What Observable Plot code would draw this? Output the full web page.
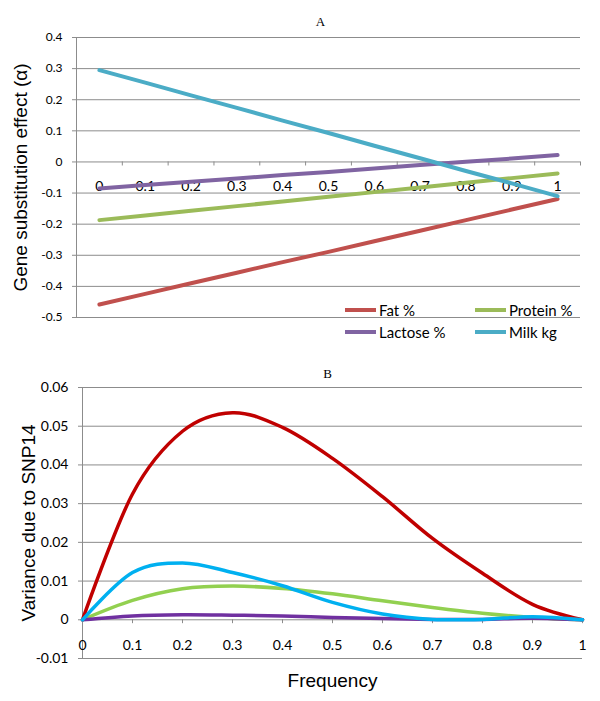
<!DOCTYPE html>
<html>
<head>
<meta charset="utf-8">
<script src="https://cdn.jsdelivr.net/npm/d3@7"></script>
<script src="https://cdn.jsdelivr.net/npm/@observablehq/plot@0.6"></script>
<style>
  body { margin: 0; background: #fff; }
  #wrap { position: relative; width: 600px; height: 701px; background: #fff; overflow: hidden; }
  .leg { position: absolute; font-family: Lato, "Open Sans", sans-serif; font-size: 15px; color: #000; white-space: nowrap; display: flex; align-items: center; }
  .leg .sw { display: inline-block; width: 31px; height: 4px; margin-right: 3px; }
</style>
</head>
<body>
<div id="wrap"></div>
<script>
// ---------- data ----------
const freq = [0, 0.1, 0.2, 0.3, 0.4, 0.5, 0.6, 0.7, 0.8, 0.9, 1];
const freqLabels = ["0", "0.1", "0.2", "0.3", "0.4", "0.5", "0.6", "0.7", "0.8", "0.9", "1"];
const seriesNames = ["Fat %", "Protein %", "Lactose %", "Milk kg"];

// Panel A: gene substitution effect (alpha)
const fatA     = [-0.458, -0.424, -0.390, -0.356, -0.322, -0.289, -0.255, -0.221, -0.187, -0.153, -0.119];
const proteinA = [-0.187, -0.172, -0.157, -0.142, -0.127, -0.112, -0.097, -0.082, -0.067, -0.052, -0.037];
const lactoseA = [-0.085, -0.074, -0.064, -0.053, -0.042, -0.032, -0.021, -0.010, 0.001, 0.011, 0.022];
const milkA    = [0.295, 0.255, 0.214, 0.174, 0.133, 0.093, 0.052, 0.012, -0.029, -0.069, -0.110];
const yTicksA  = [-0.5, -0.4, -0.3, -0.2, -0.1, 0, 0.1, 0.2, 0.3, 0.4];
const yTickLabelsA = ["-0.5", "-0.4", "-0.3", "-0.2", "-0.1", "0", "0.1", "0.2", "0.3", "0.4"];

// Panel B: variance due to SNP14
const fatB     = [0, 0.0325, 0.0487, 0.0535, 0.0497, 0.0417, 0.0318, 0.0210, 0.0120, 0.0040, 0];
const proteinB = [0, 0.0050, 0.0080, 0.0087, 0.0081, 0.0067, 0.0049, 0.0032, 0.0017, 0.0006, 0];
const lactoseB = [0, 0.0010, 0.0013, 0.0012, 0.0010, 0.0006, 0.0003, 0.0001, 0.0001, 0.0004, 0];
const milkB    = [0, 0.0122, 0.0147, 0.0122, 0.0088, 0.0045, 0.0015, 0.0001, 0.0001, 0.0008, 0];
const yTicksB  = [-0.01, 0, 0.01, 0.02, 0.03, 0.04, 0.05, 0.06];
const yTickLabelsB = ["-0.01", "0", "0.01", "0.02", "0.03", "0.04", "0.05", "0.06"];

// ---------- styling ----------
const colorsA = ["#C0504D", "#9BBB59", "#8064A2", "#4BACC6"];
const colorsB = ["#C00000", "#92D050", "#7030A0", "#00B0F0"];
const grid = "#8c8c8c";
const tickFont = "Lato, 'Open Sans', sans-serif";
const titleFont = "'Liberation Sans', Arial, sans-serif";
const serifFont = "'Liberation Serif', 'Times New Roman', serif";

function toRows(seriesArrays) {
  const rows = [];
  seriesArrays.forEach((vals, s) => vals.forEach((v, i) => rows.push({x: freq[i], y: v, s: seriesNames[s]})));
  return rows;
}
const rowsA = toRows([fatA, proteinA, lactoseA, milkA]);
const rowsB = toRows([fatB, proteinB, lactoseB, milkB]);

const wrap = document.getElementById("wrap");

// ---------- Panel A ----------
const stepA = freq[1] - freq[0];
const boundariesA = [freq[0] - stepA / 2, ...freq.map(f => f + stepA / 2)];
const plotA = Plot.plot({
  width: 600, height: 345,
  marginLeft: 76, marginRight: 20, marginTop: 37, marginBottom: 28,
  style: {fontFamily: tickFont, fontSize: "12px", color: "#000", background: "transparent", overflow: "visible"},
  x: {domain: [boundariesA[0], boundariesA[boundariesA.length - 1]], axis: null},
  y: {domain: [-0.5, 0.4]},
  color: {domain: seriesNames, range: colorsA},
  marks: [
    Plot.ruleY(yTicksA, {stroke: grid, strokeWidth: 1}),
    Plot.ruleX([boundariesA[0]], {stroke: grid, strokeWidth: 1}),
    Plot.axisY(yTicksA, {tickSize: 4, tickPadding: 10, stroke: grid, fill: "#000", fontSize: 12,
      tickFormat: d => yTickLabelsA[yTicksA.indexOf(d)], label: null}),
    Plot.ruleX(boundariesA, {y1: 0, y2: -0.013, stroke: grid, strokeWidth: 1}),
    Plot.text(freq, {x: d => d, y: 0, dy: 25, text: (d, i) => freqLabels[i], fontSize: 14, fill: "#000"}),
    Plot.line(rowsA, {x: "x", y: "y", z: "s", stroke: "s", strokeWidth: 4}),
    Plot.text(["Gene substitution effect (α)"], {frameAnchor: "left", textAnchor: "middle", lineAnchor: "middle", rotate: -90, dx: -56, fontSize: 19, fontFamily: titleFont, fill: "#000"}),
    Plot.text(["A"], {frameAnchor: "top", lineAnchor: "middle", dx: -8, dy: -16, fontSize: 13, fontFamily: serifFont, fill: "#000"})
  ]
});
plotA.style.top = "0px";
plotA.style.left = "0px";
plotA.style.position = "absolute";
wrap.appendChild(plotA);

// Legend (panel A)
const legPos = [[345, 310], [475, 310], [345, 332], [475, 332]];
seriesNames.forEach((name, i) => {
  const d = document.createElement("div");
  d.className = "leg";
  d.style.left = legPos[i][0] + "px";
  d.style.top = (legPos[i][1] - 10) + "px";
  d.style.height = "20px";
  d.innerHTML = `<span class="sw" style="background:${colorsA[i]}"></span><span>${name}</span>`;
  wrap.appendChild(d);
});

// ---------- Panel B ----------
const plotB = Plot.plot({
  width: 600, height: 356,
  marginLeft: 82, marginRight: 18, marginTop: 42, marginBottom: 43,
  style: {fontFamily: tickFont, fontSize: "14px", color: "#000", background: "transparent", overflow: "visible"},
  x: {domain: [0, 1], axis: null},
  y: {domain: [-0.01, 0.06]},
  color: {domain: seriesNames, range: colorsB},
  marks: [
    Plot.ruleY(yTicksB, {stroke: grid, strokeWidth: 1}),
    Plot.ruleX([0], {stroke: grid, strokeWidth: 1}),
    Plot.axisY(yTicksB, {tickSize: 4, tickPadding: 10, stroke: grid, fill: "#000", fontSize: 14,
      tickFormat: d => yTickLabelsB[yTicksB.indexOf(d)], label: null}),
    Plot.ruleX(freq, {y1: 0, y2: -0.001, stroke: grid, strokeWidth: 1}),
    Plot.text(freq, {x: d => d, y: 0, dy: 26, text: (d, i) => freqLabels[i], fontSize: 14, fill: "#000"}),
    Plot.line(rowsB, {x: "x", y: "y", z: "s", stroke: "s", strokeWidth: 3.5, curve: "cardinal", tension: 0}),
    Plot.text(["Variance due to SNP14"], {frameAnchor: "left", textAnchor: "middle", lineAnchor: "middle", rotate: -90, dx: -54, fontSize: 19, fontFamily: titleFont, fill: "#000"}),
    Plot.text(["Frequency"], {frameAnchor: "bottom", lineAnchor: "middle", dy: 22, fontSize: 19, fontFamily: titleFont, fill: "#000"}),
    Plot.text(["B"], {frameAnchor: "top", lineAnchor: "middle", dx: -5, dy: -14, fontSize: 13, fontFamily: serifFont, fill: "#000"})
  ]
});
plotB.style.top = "345px";
plotB.style.left = "0px";
plotB.style.position = "absolute";
wrap.appendChild(plotB);
</script>
</body>
</html>
